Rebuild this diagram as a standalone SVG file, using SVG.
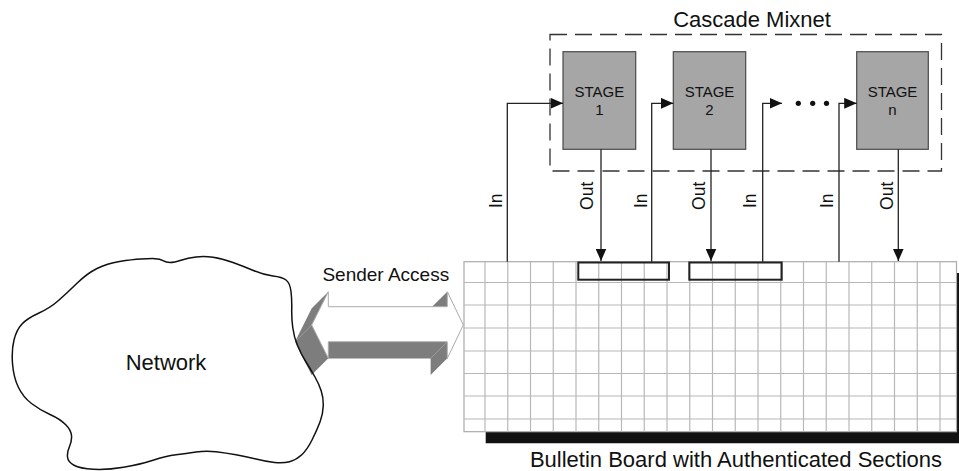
<svg xmlns="http://www.w3.org/2000/svg" width="959" height="471" viewBox="0 0 959 471">
  <style>
    text { font-family: "Liberation Sans", Arial, Helvetica, sans-serif; fill: #111; }
    .stage rect { fill: #a6a6a6; stroke: #4a4a4a; stroke-width: 1.2; }
    .stage text { font-size: 15px; text-anchor: middle; }
    .wire { fill: none; stroke: #222; stroke-width: 1.3; }
    .lbl { font-size: 17.5px; text-anchor: middle; }
    .grid line { stroke: #b8b8b8; stroke-width: 1.2; }
    .face { fill: #7d7d7d; }
    .slot { fill: none; stroke: #222; stroke-width: 2; }
  </style>
  <defs>
    <marker id="head" markerUnits="userSpaceOnUse" markerWidth="13" markerHeight="11" refX="12.5" refY="5.5" orient="auto">
      <path d="M0,0 L12.5,5.5 L0,11 Z" fill="#111"/>
    </marker>
  </defs>

  <rect width="959" height="471" fill="#fff"/>

  <!-- Cascade mixnet frame -->
  <g id="mixnet">
    <rect x="550" y="34.5" width="391.5" height="136.5" fill="none" stroke="#333" stroke-width="1.3" stroke-dasharray="17 8"/>
    <text x="752" y="26.7" font-size="22" text-anchor="middle">Cascade Mixnet</text>
  </g>

  <g id="stage1" class="stage">
    <rect x="563" y="51.7" width="72.7" height="97.6"/>
    <text x="599.3" y="96.7">STAGE</text>
    <text x="599.3" y="115">1</text>
  </g>
  <g id="stage2" class="stage">
    <rect x="673.3" y="51.7" width="72.4" height="97.6"/>
    <text x="709.5" y="96.7">STAGE</text>
    <text x="709.5" y="115">2</text>
  </g>
  <g id="stageN" class="stage">
    <rect x="856.7" y="51.7" width="71.6" height="97.6"/>
    <text x="892.5" y="96.7">STAGE</text>
    <text x="892.5" y="115">n</text>
  </g>

  <!-- ellipsis between stages -->
  <g id="ellipsis" fill="#111">
    <circle cx="798.3" cy="103.3" r="2.6"/>
    <circle cx="812.7" cy="103.3" r="2.6"/>
    <circle cx="826.5" cy="103.3" r="2.6"/>
  </g>

  <!-- Bulletin board -->
  <g id="board">
    <path d="M485.7,431.7 H959 V443.3 H485.7 Z M956.5,273 H959 V432 H956.5 Z" fill="#111"/>
    <rect x="464" y="261.7" width="492.5" height="170" fill="#fff" stroke="#aaa" stroke-width="1.2"/>
    <g class="grid">
      <line x1="464" y1="282.5" x2="956.5" y2="282.5"/>
      <line x1="464" y1="305" x2="956.5" y2="305"/>
      <line x1="464" y1="328" x2="956.5" y2="328"/>
      <line x1="464" y1="351" x2="956.5" y2="351"/>
      <line x1="464" y1="373.5" x2="956.5" y2="373.5"/>
      <line x1="464" y1="396" x2="956.5" y2="396"/>
      <line x1="464" y1="419" x2="956.5" y2="419"/>
      <line x1="485" y1="261.7" x2="485" y2="431.7"/>
      <line x1="507.75" y1="261.7" x2="507.75" y2="431.7"/>
      <line x1="530.5" y1="261.7" x2="530.5" y2="431.7"/>
      <line x1="553.25" y1="261.7" x2="553.25" y2="431.7"/>
      <line x1="576" y1="261.7" x2="576" y2="431.7"/>
      <line x1="598.75" y1="261.7" x2="598.75" y2="431.7"/>
      <line x1="621.5" y1="261.7" x2="621.5" y2="431.7"/>
      <line x1="644.25" y1="261.7" x2="644.25" y2="431.7"/>
      <line x1="667" y1="261.7" x2="667" y2="431.7"/>
      <line x1="689.75" y1="261.7" x2="689.75" y2="431.7"/>
      <line x1="712.5" y1="261.7" x2="712.5" y2="431.7"/>
      <line x1="735.25" y1="261.7" x2="735.25" y2="431.7"/>
      <line x1="758" y1="261.7" x2="758" y2="431.7"/>
      <line x1="780.75" y1="261.7" x2="780.75" y2="431.7"/>
      <line x1="803.5" y1="261.7" x2="803.5" y2="431.7"/>
      <line x1="826.25" y1="261.7" x2="826.25" y2="431.7"/>
      <line x1="849" y1="261.7" x2="849" y2="431.7"/>
      <line x1="871.75" y1="261.7" x2="871.75" y2="431.7"/>
      <line x1="894.5" y1="261.7" x2="894.5" y2="431.7"/>
      <line x1="917.25" y1="261.7" x2="917.25" y2="431.7"/>
      <line x1="940" y1="261.7" x2="940" y2="431.7"/>
    </g>
    <rect class="slot" x="578.3" y="262.5" width="90.7" height="17.2"/>
    <rect class="slot" x="689.3" y="262.5" width="92.4" height="17.2"/>
    <text x="736" y="466.5" font-size="22" text-anchor="middle">Bulletin Board with Authenticated Sections</text>
  </g>

  <!-- Sender access: extruded double-headed block arrow -->
  <g id="sender-access">
    <path class="face" d="M328.3,291.7 L311.7,325 L295,341.7 L311.6,308.4 Z"/>
    <path class="face" d="M311.7,325 L328.3,358.3 L311.6,375 L295,341.7 Z"/>
    <path class="face" d="M328.3,341.7 H447.3 L430.6,358.4 H311.6 Z"/>
    <path class="face" d="M447.3,341.7 V358.3 L430.6,375 V358.4 Z"/>
    <path class="face" d="M447.3,291.7 V306.7 H432 Z"/>
    <path d="M311.7,325 L328.3,291.7 V306.7 H447.3 V291.7 L463.3,325 L447.3,358.3 V341.7 H328.3 V358.3 Z" fill="#fff" stroke="#aaa" stroke-width="1"/>
    <text x="385.8" y="281" font-size="19" text-anchor="middle">Sender Access</text>
  </g>

  <!-- Network cloud -->
  <g id="network">
    <path d="M141,259 Q150,258.5 155,258.65 Q160,258.8 163,260.65 Q166,262.5 170,262.5 Q174,262.5 181,260.25 Q188,258 196,257 Q204,256 213,257.25 Q222,258.5 233,262.5 Q244,266.5 254,270.75 Q264,275 273,276 Q282,277 286,280 Q290,283 291,291.5 Q292,300 291.75,309 Q291.5,318 292.75,327.5 Q294,337 297.5,345.5 Q301,354 306,362 Q311,370 315,377 Q319,384 321.25,391 Q323.5,398 323.25,406 Q323,414 320,422 Q317,430 312,440 Q307,450 301.5,455 Q296,460 289.5,461.75 Q283,463.5 274.5,462.5 Q266,461.5 256,459 Q246,456.5 236,454.75 Q226,453 216,451.75 Q206,450.5 196,452 Q186,453.5 176,454.75 Q166,456 153,460.25 Q140,464.5 123.5,467.25 Q107,470 93.5,469.25 Q80,468.5 74,465.25 Q68,462 67.5,457 Q67,452 69.5,446.5 Q72,441 71.5,435.5 Q71,430 65.5,424.5 Q60,419 50,414.5 Q40,410 31.5,403.5 Q23,397 18.25,387 Q13.5,377 12.5,363.5 Q11.5,350 14,340 Q16.5,330 21.75,324.25 Q27,318.5 38.5,313.25 Q50,308 58.5,300.5 Q67,293 77,283.25 Q87,273.5 97,268.5 Q107,263.5 119.5,261.5 Q132,259.5 141,259 Z" fill="none" stroke="#111" stroke-width="1.5"/>
    <text x="166" y="370" font-size="22" text-anchor="middle">Network</text>
  </g>

  <!-- In / Out connectors between the board and the stages -->
  <g id="connectors">
    <path class="wire" d="M507.3,261.7 V103.3 H563" marker-end="url(#head)"/>
    <path class="wire" d="M651.7,261.7 V103.3 H673.3" marker-end="url(#head)"/>
    <path class="wire" d="M762.7,261.7 V103.3 H782" marker-end="url(#head)"/>
    <path class="wire" d="M839,261.7 V103.3 H856.7" marker-end="url(#head)"/>
    <path class="wire" d="M601,149.3 V261" marker-end="url(#head)"/>
    <path class="wire" d="M711,149.3 V261" marker-end="url(#head)"/>
    <path class="wire" d="M898.3,149.3 V261" marker-end="url(#head)"/>
    <text class="lbl" transform="translate(501.7,200.8) rotate(-90)">In</text>
    <text class="lbl" transform="translate(593.3,195.8) rotate(-90)">Out</text>
    <text class="lbl" transform="translate(646.7,200.8) rotate(-90)">In</text>
    <text class="lbl" transform="translate(705,195.8) rotate(-90)">Out</text>
    <text class="lbl" transform="translate(756,200.8) rotate(-90)">In</text>
    <text class="lbl" transform="translate(833.3,200.8) rotate(-90)">In</text>
    <text class="lbl" transform="translate(893.3,195.8) rotate(-90)">Out</text>
  </g>
</svg>
